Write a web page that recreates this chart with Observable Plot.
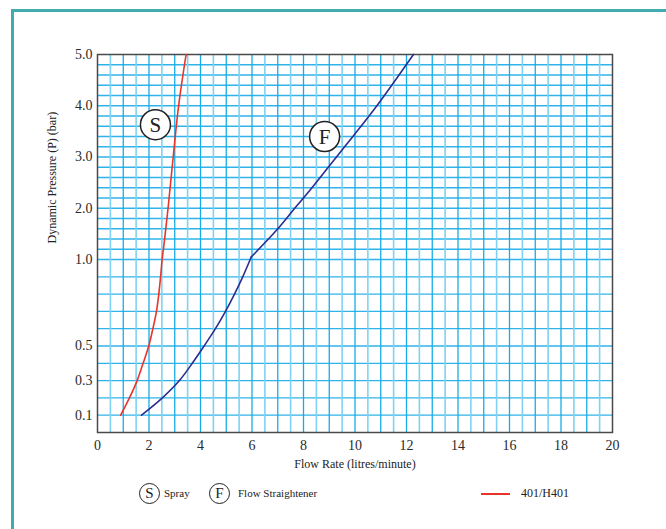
<!DOCTYPE html>
<html><head><meta charset="utf-8">
<script src="https://cdn.jsdelivr.net/npm/d3@7"></script>
<script src="https://cdn.jsdelivr.net/npm/@observablehq/plot@0.6"></script>
<style>
body{margin:0;background:#fff;font-family:"Liberation Serif","DejaVu Serif",serif;}
#wrap{position:relative;width:666px;height:529px;overflow:hidden;}
#frame{position:absolute;left:11px;top:9px;width:800px;height:800px;border-left:3px solid #42abb0;border-top:3px solid #42abb0;}
#chart{position:absolute;left:0;top:0;}
#legend{position:absolute;left:0;top:475px;width:666px;height:40px;color:#222;font-size:11px;}
.circ{position:absolute;width:19px;height:19px;border:1.5px solid #222;border-radius:50%;text-align:center;line-height:19px;font-size:15px;top:8px;}
.lt{position:absolute;top:12px;}
.lline{position:absolute;left:481px;top:18px;width:29px;height:2px;background:#e8352c;}
</style>
</head><body>
<div id="wrap"><div id="frame"></div><div id="chart"></div>
<div id="legend">
  <div class="circ" style="left:139px">S</div><div class="lt" style="left:164px">Spray</div>
  <div class="circ" style="left:209px">F</div><div class="lt" style="left:238px">Flow Straightener</div>
  <div class="lline"></div><div class="lt" style="left:521px;font-size:12px;top:11px">401/H401</div>
</div>
</div>
<script>
// Spray (S) curve
const sprayFlow = [0.9, 1.24, 1.54, 1.77, 1.99, 2.15, 2.29, 2.38, 2.45, 2.51, 2.6, 2.74, 2.94, 3.15, 3.44];
const sprayPressure = [0.1, 0.2, 0.3, 0.4, 0.5, 0.6, 0.7, 0.8, 0.9, 1.0, 1.37, 2.0, 3.0, 4.0, 5.0];
// Flow straightener (F) curve: lower branch and upper branch meet at the kink
const straightFlowLow = [1.71, 2.52, 3.18, 3.68, 4.14, 4.58, 4.97, 5.32, 5.64, 5.97];
const straightPressureLow = [0.1, 0.2, 0.3, 0.4, 0.5, 0.6, 0.7, 0.8, 0.9, 1.05];
const straightFlowHigh = [5.97, 6.95, 7.66, 8.25, 9.28, 9.95, 10.85, 12.27];
const straightPressureHigh = [1.05, 1.57, 2.0, 2.35, 3.0, 3.42, 4.0, 5.0];
// Axes
const xTicks = [0, 2, 4, 6, 8, 10, 12, 14, 16, 18, 20];
const yTicks = [0.1, 0.3, 0.5, 1.0, 2.0, 3.0, 4.0, 5.0];
// Annotation labels
const labels = ["S", "F"];
const labelFlow = [2.25, 8.82];
const labelPressure = [3.63, 3.4];

const spray = sprayFlow.map((x, i) => ({x, y: sprayPressure[i]}));
const straightLow = straightFlowLow.map((x, i) => ({x, y: straightPressureLow[i]}));
const straightHigh = straightFlowHigh.map((x, i) => ({x, y: straightPressureHigh[i]}));
const ann = labels.map((t, i) => ({t, x: labelFlow[i], y: labelPressure[i]}));

const gridXDark = d3.range(1, 20, 1);
const gridXLight = d3.range(0.5, 20, 1);
const gridY = [...d3.range(0.1, 1.0, 0.1), 1.0, ...d3.range(1.2, 5.0, 0.2)];

const chart = Plot.plot({
  width: 666, height: 475,
  marginLeft: 97, marginRight: 54, marginTop: 54, marginBottom: 43,
  style: {fontFamily: '"Liberation Serif","DejaVu Serif",serif', background: "transparent", color: "#222"},
  x: {domain: [0, 20]},
  y: {type: "linear", domain: [0, 1, 5], range: [432, 259, 54]},
  marks: [
    Plot.ruleY(gridY, {stroke: "#2fb3ea", strokeWidth: 1.3}),
    Plot.ruleX(gridXLight, {stroke: "#7fd2f3", strokeWidth: 1.6}),
    Plot.ruleX(gridXDark, {stroke: "#18ace6", strokeWidth: 1.3}),
    Plot.frame({stroke: "#4a4a4a", strokeWidth: 1.5}),
    Plot.axisX({ticks: xTicks, tickSize: 0, tickPadding: 8, fontSize: 14, fill: "#2a2a2a", label: null}),
    Plot.axisY({ticks: yTicks, tickSize: 0, tickPadding: 5, fontSize: 14, fill: "#2a2a2a", tickFormat: d3.format(".1f"), label: null}),
    Plot.line(spray, {x: "x", y: "y", stroke: "#e8352c", strokeWidth: 1.6, curve: "catmull-rom"}),
    Plot.line(straightLow, {x: "x", y: "y", stroke: "#2b2d8e", strokeWidth: 1.6, curve: "catmull-rom"}),
    Plot.line(straightHigh, {x: "x", y: "y", stroke: "#2b2d8e", strokeWidth: 1.6, curve: "catmull-rom"}),
    Plot.dot(ann, {x: "x", y: "y", r: 15, fill: "white", stroke: "#222", strokeWidth: 1.5}),
    Plot.text(ann, {x: "x", y: "y", text: "t", fontSize: 21, fill: "#222", dy: 1}),
    Plot.text(["Flow Rate (litres/minute)"], {frameAnchor: "bottom", dy: 35, fontSize: 12, fill: "#222"}),
    Plot.text(["Dynamic Pressure (P) (bar)"], {frameAnchor: "left", dx: -45, rotate: -90, fontSize: 12, fill: "#222"})
  ]
});
document.getElementById("chart").appendChild(chart);
</script>
</body></html>
